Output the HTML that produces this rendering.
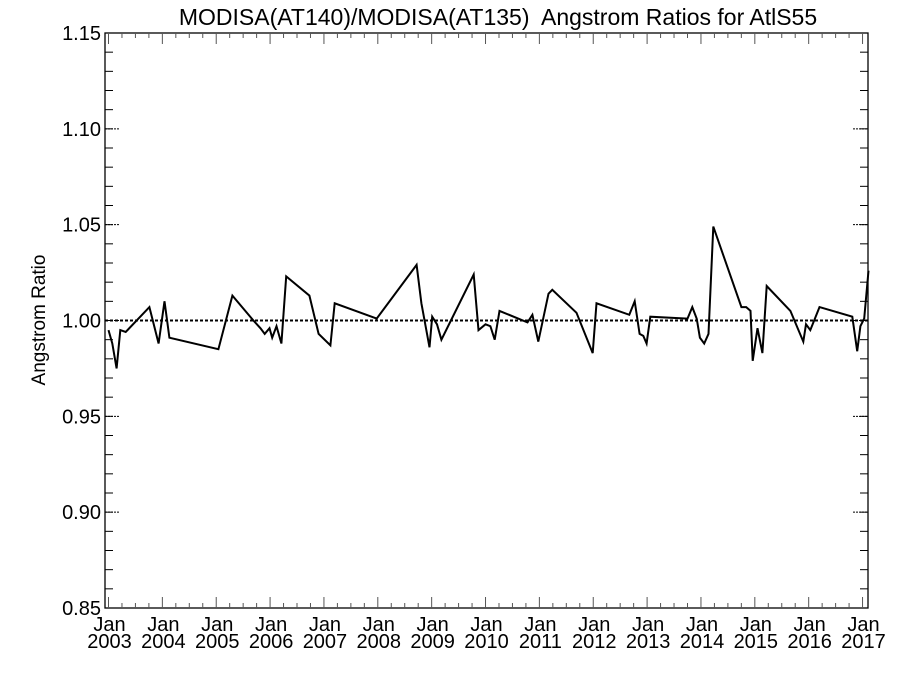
<!DOCTYPE html>
<html><head><meta charset="utf-8"><style>
body{margin:0;background:#fff;}
svg text{font-family:"Liberation Sans",sans-serif;fill:#000;}
.tl{font-size:20px;}
</style></head><body>
<svg id="chart" width="900" height="675" viewBox="0 0 900 675" xmlns="http://www.w3.org/2000/svg">
<text x="498" y="25" style="font-size:23px" text-anchor="middle" xml:space="preserve">MODISA(AT140)/MODISA(AT135)  Angstrom Ratios for AtlS55</text>
<text transform="translate(45,320) rotate(-90)" style="font-size:19px" text-anchor="middle">Angstrom Ratio</text>
<g id="axes"></g>
<g id="marks"></g>
</svg>
<script>
const years = [2003.00,2003.07,2003.15,2003.22,2003.32,2003.76,2003.93,2004.04,2004.13,2005.04,2005.30,2005.69,2005.82,2005.90,2005.99,2006.04,2006.12,2006.21,2006.30,2006.73,2006.90,2007.12,2007.20,2007.98,2008.72,2008.81,2008.96,2009.01,2009.10,2009.18,2009.78,2009.87,2010.00,2010.09,2010.17,2010.26,2010.78,2010.87,2010.98,2011.17,2011.24,2011.69,2011.99,2012.06,2012.67,2012.77,2012.86,2012.93,2012.99,2013.06,2013.75,2013.84,2013.92,2013.98,2014.06,2014.14,2014.23,2014.75,2014.84,2014.92,2014.96,2015.05,2015.14,2015.22,2015.66,2015.90,2015.95,2016.03,2016.20,2016.81,2016.90,2016.96,2017.03,2017.11];
const ratios = [0.995,0.988,0.975,0.995,0.994,1.007,0.988,1.010,0.991,0.985,1.013,1.000,0.996,0.993,0.996,0.991,0.997,0.988,1.023,1.013,0.993,0.987,1.009,1.001,1.029,1.009,0.986,1.002,0.998,0.990,1.024,0.995,0.998,0.997,0.990,1.005,0.999,1.003,0.989,1.014,1.016,1.004,0.983,1.009,1.003,1.010,0.993,0.992,0.988,1.002,1.001,1.007,1.001,0.991,0.988,0.993,1.049,1.007,1.007,1.005,0.979,0.996,0.983,1.018,1.005,0.989,0.998,0.995,1.007,1.002,0.984,0.997,1.001,1.026];
const yTicks = [0.85,0.90,0.95,1.00,1.05,1.10,1.15];
const yTickLabels = ["0.85","0.90","0.95","1.00","1.05","1.10","1.15"];
const xTickYears = [2003,2004,2005,2006,2007,2008,2009,2010,2011,2012,2013,2014,2015,2016,2017];
const refValue = 1.0;

const L=105,R=868,T=33,B=608;
const xs = y => 108.5 + (y-2003)*53.86;
const ys = v => B - (v-0.85)/0.30*(B-T);
const NS="http://www.w3.org/2000/svg";
const axes=document.getElementById('axes'), marks=document.getElementById('marks');
function mk(tag,attrs,parent){const e=document.createElementNS(NS,tag);for(const k in attrs)e.setAttribute(k,attrs[k]);parent.appendChild(e);return e;}

let frame=mk('rect',{x:L,y:T,width:R-L,height:B-T,fill:'none',stroke:'#000','stroke-width':1.3},axes);



for(let v=0.85;v<1.1501;v+=0.01){
  const y=ys(v);
  let t1=mk('line',{x1:L,x2:L+8,y1:y,y2:y,stroke:'#000','stroke-width':1},axes);
  
  
  let t2=mk('line',{x1:R-8,x2:R,y1:y,y2:y,stroke:'#000','stroke-width':1},axes);
  
  
}
yTicks.forEach((v,i)=>{
  const y=ys(v);
  let a=mk('line',{x1:L,x2:L+15,y1:y,y2:y,stroke:'#000','stroke-width':1,'stroke-dasharray':'2,1'},axes);
  
  
  let b=mk('line',{x1:R-15,x2:R,y1:y,y2:y,stroke:'#000','stroke-width':1,'stroke-dasharray':'2,1'},axes);
  
  
  let t=mk('text',{x:L-4,y:y+7,'class':'tl','text-anchor':'end'},axes);
  t.textContent=yTickLabels[i];
  
  
});
xTickYears.forEach((yr,i)=>{
  const x=xs(yr);
  for(let q=0;q<4;q++){
    const xx=xs(yr+q*0.25); if(xx>R) break;
    const len=q===0?11:5;
    let a=mk('line',{x1:xx,x2:xx,y1:B,y2:B-len,stroke:'#555','stroke-width':1},axes);
    
    
    let b=mk('line',{x1:xx,x2:xx,y1:T,y2:T+len,stroke:'#555','stroke-width':1},axes);
    
    
  }
  let t=mk('text',{x:x+1,y:B+23,'class':'tl','text-anchor':'middle'},axes);
  t.textContent='Jan';
  
  
  let t2=mk('text',{x:x+1,y:B+40,'class':'tl','text-anchor':'middle'},axes);
  t2.textContent=String(yr);
  
  
});
let ref=mk('line',{x1:L,x2:R,y1:ys(refValue),y2:ys(refValue),stroke:'#000','stroke-width':2,'stroke-dasharray':'3,2'},marks);


const pts=years.map((y,i)=>xs(y).toFixed(1)+','+ys(ratios[i]).toFixed(1)).join(' ');
let pl=mk('polyline',{points:pts,fill:'none',stroke:'#000','stroke-width':2,'stroke-linejoin':'miter'},marks);


</script>
</body></html>
